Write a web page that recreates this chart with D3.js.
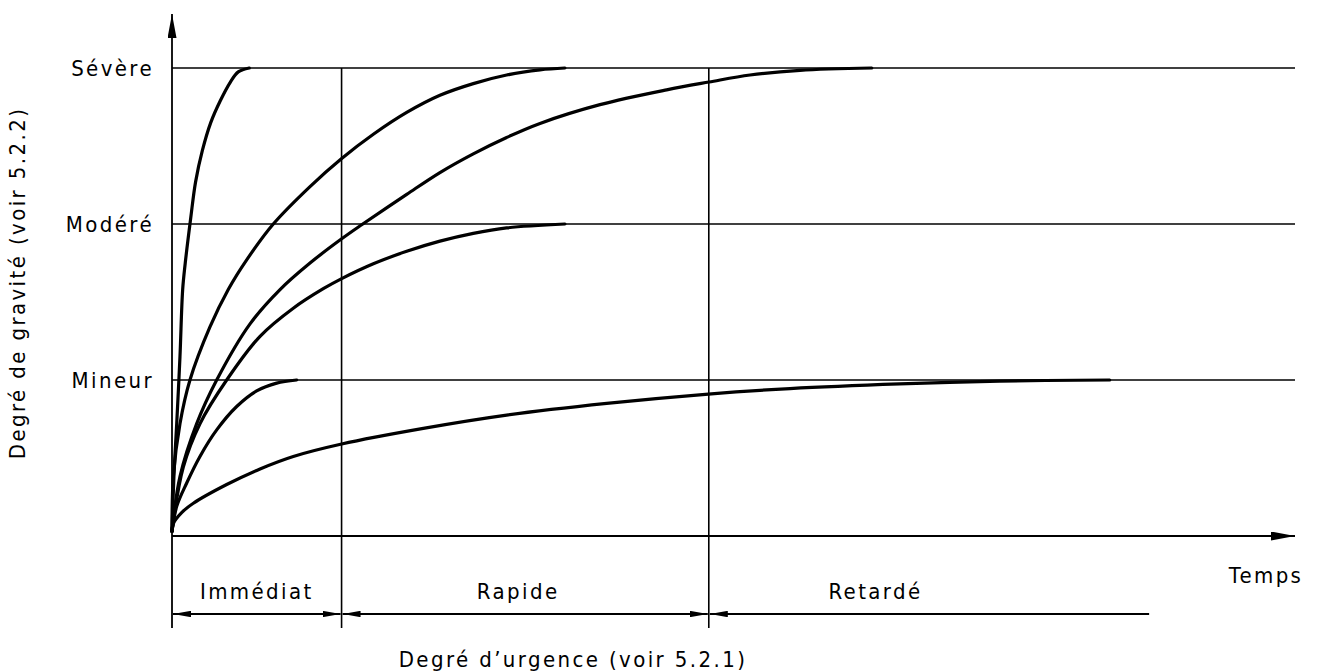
<!DOCTYPE html>
<html lang="fr">
<head>
<meta charset="UTF-8">
<script src="https://d3js.org/d3.v7.min.js"></script>
<title>Degré de gravité / Degré d'urgence</title>
<style>
    body { margin: 0; background: #fff; }
    svg text {
        font-family: "DejaVu Sans Condensed", "DejaVu Sans", sans-serif;
        font-size: 22px;
        letter-spacing: 2.4px;
        fill: #000;
    }
</style>
</head>
<body>
<svg id="chart" width="1318" height="672"></svg>
<script>
// severity levels (y = 1, 2, 3)
const levels = ["Mineur", "Modéré", "Sévère"];
const levelValues = [1, 2, 3];

// urgency phases on the time axis (time units 0..100)
const phaseNames = ["Immédiat", "Rapide", "Retardé"];
const phaseBounds = [0, 15.1, 47.8, 87.1];

// curves [time, severity]
const curve1 = [[0, 0.03], [0.18, 0.40], [0.42, 0.72], [0.71, 1.15], [0.95, 1.58], [1.18, 1.75],
    [1.67, 2.04], [2.1, 2.27], [2.7, 2.47], [3.45, 2.65], [4.3, 2.79], [5.2, 2.91],
    [5.9, 2.975], [6.88, 3.0]];
const curve2 = [[0, 0.03], [0.12, 0.38], [0.71, 0.72], [1.6, 1.0], [3.38, 1.34], [5.01, 1.58],
    [6.65, 1.77], [9.02, 2.0], [12.29, 2.24], [15.11, 2.42], [17.93, 2.575], [20.9, 2.715],
    [23.86, 2.825], [26.83, 2.9], [29.8, 2.955], [32.77, 2.988], [34.99, 3.0]];
const curve3 = [[0, 0.03], [0.71, 0.38], [2.2, 0.72], [3.98, 1.0], [6.95, 1.36], [9.62, 1.58],
    [12.29, 1.75], [15.11, 1.905], [16.89, 1.995], [20.9, 2.19], [23.86, 2.33], [26.83, 2.45],
    [29.8, 2.555], [32.77, 2.645], [38.11, 2.765], [44.05, 2.86], [47.82, 2.91], [51.47, 2.955],
    [55.92, 2.985], [62.31, 3.0]];
const curve4 = [[0, 0.03], [1.0, 0.44], [2.49, 0.72], [4.87, 1.0], [7.84, 1.28], [10.8, 1.46],
    [13.47, 1.585], [15.11, 1.65], [17.93, 1.745], [20.9, 1.825], [23.86, 1.89], [26.83, 1.94],
    [29.8, 1.975], [34.99, 2.0]];
const curve5 = [[0, 0.03], [0.42, 0.19], [1.31, 0.34], [2.49, 0.51], [3.98, 0.68], [5.76, 0.83],
    [7.54, 0.93], [9.32, 0.98], [11.1, 1.0]];
const curve6 = [[0, 0.03], [0.12, 0.08], [0.86, 0.15], [1.9, 0.21], [4.87, 0.33], [7.84, 0.43],
    [10.8, 0.51], [15.11, 0.59], [22.38, 0.69], [29.8, 0.775], [38.71, 0.85], [47.76, 0.91],
    [55.03, 0.945], [64.8, 0.975], [73.7, 0.993], [83.5, 1.0]];
const curves = [curve1, curve2, curve3, curve4, curve5, curve6];

const svg = d3.select("#chart");

const x = d3.scaleLinear().domain([0, 100]).range([172, 1295]);
const y = d3.scaleLinear().domain([0, 3]).range([536, 68]);

const dimY = 614;      // dimension line row
const bottomY = 628;   // extension lines end

// arrowheads
const defs = svg.append("defs");
function marker(id, len, half) {
    defs.append("marker")
        .attr("id", id)
        .attr("viewBox", `0 ${-half} ${len} ${half * 2}`)
        .attr("refX", len)
        .attr("refY", 0)
        .attr("markerUnits", "userSpaceOnUse")
        .attr("markerWidth", len)
        .attr("markerHeight", half * 2)
        .attr("orient", "auto-start-reverse")
        .append("path")
        .attr("d", `M0,${-half}L${len},0L0,${half}Z`)
        .attr("fill", "#000");
}
marker("axisArrow", 24, 4.5);
marker("dimArrow", 18, 3.2);

// severity reference lines
svg.selectAll(".level")
    .data(levelValues)
    .enter()
    .append("line")
    .attr("x1", x(0))
    .attr("x2", x(100))
    .attr("y1", d => y(d))
    .attr("y2", d => y(d))
    .attr("stroke", "#000")
    .attr("stroke-width", 1.6);

svg.selectAll(".level-label")
    .data(levels)
    .enter()
    .append("text")
    .attr("x", 154)
    .attr("y", (d, i) => y(levelValues[i]))
    .attr("dy", "0.35em")
    .attr("text-anchor", "end")
    .text(d => d);

// phase boundaries (vertical)
svg.selectAll(".bound")
    .data(phaseBounds.slice(1, 3))
    .enter()
    .append("line")
    .attr("x1", d => x(d))
    .attr("x2", d => x(d))
    .attr("y1", y(3))
    .attr("y2", bottomY)
    .attr("stroke", "#000")
    .attr("stroke-width", 1.6);

// axes
svg.append("line")
    .attr("x1", x(0)).attr("x2", x(0))
    .attr("y1", bottomY).attr("y2", 14)
    .attr("stroke", "#000").attr("stroke-width", 1.8)
    .attr("marker-end", "url(#axisArrow)");

svg.append("line")
    .attr("x1", x(0)).attr("x2", x(100))
    .attr("y1", y(0)).attr("y2", y(0))
    .attr("stroke", "#000").attr("stroke-width", 1.8)
    .attr("marker-end", "url(#axisArrow)");

// curves
const line = d3.line()
    .x(d => x(d[0]))
    .y(d => y(d[1]))
    .curve(d3.curveCatmullRom.alpha(0.5));

svg.selectAll(".curve")
    .data(curves)
    .enter()
    .append("path")
    .attr("d", line)
    .attr("fill", "none")
    .attr("stroke", "#000")
    .attr("stroke-width", 3.2)
    .attr("stroke-linecap", "round")
    .attr("stroke-linejoin", "round");

// dimension lines for phases
const labelShift = [0, -7, -54];
phaseNames.forEach((name, i) => {
    const a = phaseBounds[i], b = phaseBounds[i + 1];
    const dl = svg.append("line")
        .attr("x1", x(a) + 1).attr("x2", x(b) - 1)
        .attr("y1", dimY).attr("y2", dimY)
        .attr("stroke", "#000").attr("stroke-width", 1.8)
        .attr("marker-start", "url(#dimArrow)");
    if (i < 2) dl.attr("marker-end", "url(#dimArrow)");

    svg.append("text")
        .attr("x", (x(a) + x(b)) / 2 + labelShift[i])
        .attr("y", dimY - 15)
        .attr("text-anchor", "middle")
        .text(name);
});

svg.append("text")
    .attr("x", 1266)
    .attr("y", 583)
    .attr("text-anchor", "middle")
    .text("Temps");

svg.append("text")
    .attr("x", 573)
    .attr("y", 667)
    .attr("text-anchor", "middle")
    .text("Degré d\u2019urgence (voir 5.2.1)");

svg.append("text")
    .attr("transform", "translate(25,283) rotate(-90)")
    .attr("text-anchor", "middle")
    .text("Degré de gravité (voir 5.2.2)");
</script>
</body>
</html>
